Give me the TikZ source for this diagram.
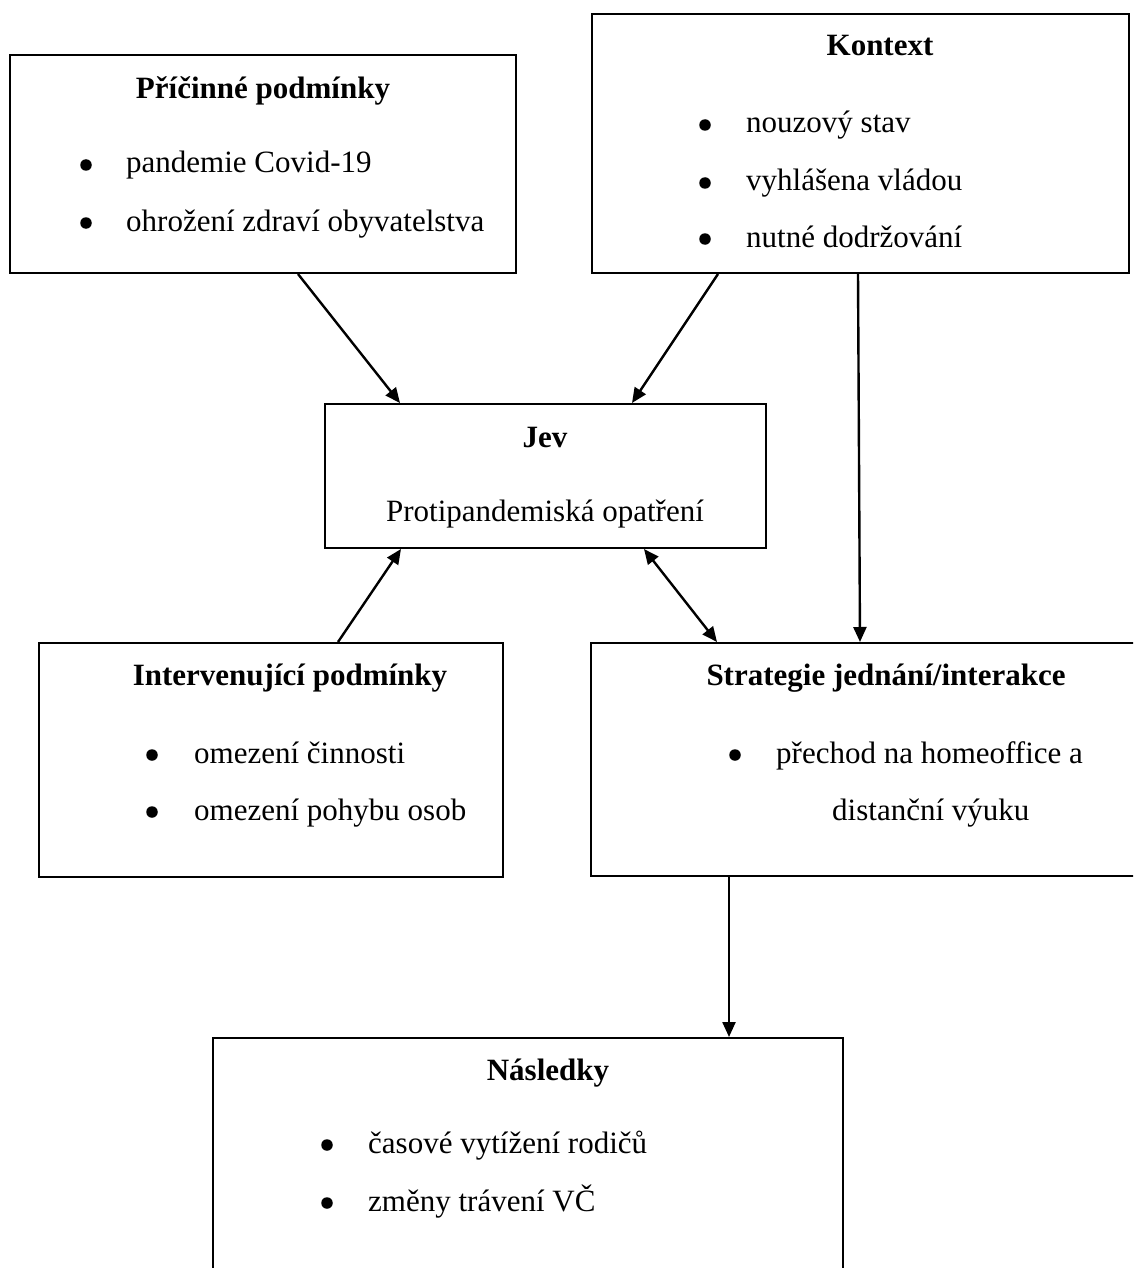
\documentclass[tikz,border=0pt]{standalone}
\usepackage{fontspec}
\setmainfont{Liberation Serif}
\usetikzlibrary{arrows.meta}
\begin{document}
\begin{tikzpicture}[x=1pt,y=-1pt,
  box/.style={draw, line width=2pt, rectangle, inner sep=0pt},
  conn/.style={line width=2.4pt, -{Triangle[length=15pt,width=13pt]}},
  both/.style={line width=2.4pt, {Triangle[length=15pt,width=13pt]}-{Triangle[length=15pt,width=13pt]}},
  ttl/.style={font=\fontsize{31}{37}\selectfont\bfseries, anchor=base, inner sep=0pt},
  itm/.style={font=\fontsize{31}{37}\selectfont, anchor=base west, inner sep=0pt},
  txt/.style={font=\fontsize{31}{37}\selectfont, anchor=base, inner sep=0pt},
  bul/.style={circle, fill=black, inner sep=0pt, minimum size=11.5pt}]
\useasboundingbox (0,0) rectangle (1133,1268);
\clip (0,0) rectangle (1133,1268);
\fill[white] (0,0) rectangle (1133,1268);

% boxes
\node[box, minimum width=506, minimum height=218] (pric) at (263,164) {};
\node[box, minimum width=537, minimum height=259] (kont) at (860.5,143.5) {};
\node[box, minimum width=441, minimum height=144] (jev) at (545.5,476) {};
\node[box, minimum width=464, minimum height=234] (interv) at (271,760) {};
\node[box, minimum width=559, minimum height=233] (strat) at (870.5,759.5) {};
\node[box, minimum width=630, minimum height=252] (nasl) at (528,1164) {};

% Příčinné podmínky
\node[ttl] (t1) at (263,99) {Příčinné podmínky};
\node[bul] (b11) at (86,165) {};
\node[itm] (i11) at (126,173) {pandemie Covid-19};
\node[bul] (b12) at (86,223) {};
\node[itm] (i12) at (126,231) {ohrožení zdraví obyvatelstva};

% Kontext
\node[ttl] (t2) at (880,56) {Kontext};
\node[bul] (b21) at (705,125) {};
\node[itm] (i21) at (746,133) {nouzový stav};
\node[bul] (b22) at (705,183) {};
\node[itm] (i22) at (746,191) {vyhlášena vládou};
\node[bul] (b23) at (705,239) {};
\node[itm] (i23) at (746,247) {nutné dodržování};

% Jev
\node[ttl] (t3) at (545,447) {Jev};
\node[txt] (i31) at (545,521) {Protipandemiská opatření};

% Intervenující podmínky
\node[ttl] (t4) at (290,685) {Intervenující podmínky};
\node[bul] (b41) at (152,755) {};
\node[itm] (i41) at (194,763) {omezení činnosti};
\node[bul] (b42) at (152,812) {};
\node[itm] (i42) at (194,820) {omezení pohybu osob};

% Strategie
\node[ttl] (t5) at (886,685) {Strategie jednání/interakce};
\node[bul] (b51) at (735,755) {};
\node[itm] (i51) at (776,763) {přechod na homeoffice a};
\node[itm] (i52) at (832,820) {distanční výuku};

% Následky
\node[ttl] (t6) at (548,1080) {Následky};
\node[bul] (b61) at (327,1145) {};
\node[itm] (i61) at (368,1153) {časové vytížení rodičů};
\node[bul] (b62) at (327,1203) {};
\node[itm] (i62) at (368,1211) {změny trávení VČ};

% connectors
\draw[conn] ([xshift=289pt]pric.south west) -- ([xshift=76pt]jev.north west);
\draw[conn] ([xshift=127pt]kont.south west) -- ([xshift=308pt]jev.north west);
\draw[conn] ([xshift=267pt]kont.south west) -- ([xshift=270pt]strat.north west);
\draw[conn] ([xshift=300pt]interv.north west) -- ([xshift=77pt]jev.south west);
\draw[both] ([xshift=320pt]jev.south west) -- ([xshift=127pt]strat.north west);
\draw[conn] ([xshift=139pt]strat.south west) -- ([xshift=517pt]nasl.north west);
\end{tikzpicture}
\end{document}
